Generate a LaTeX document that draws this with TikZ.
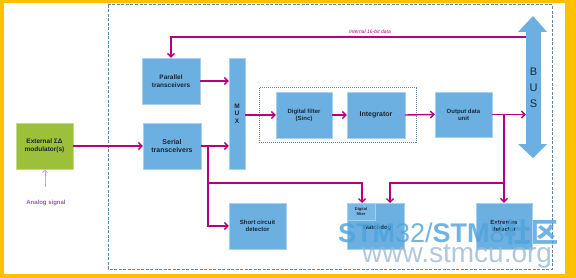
\documentclass[tikz,border=0pt]{standalone}
\usepackage{fontspec}
\setmainfont{Liberation Sans}
\newfontfamily\cjk{Noto Sans CJK SC}
\usetikzlibrary{arrows.meta}
\definecolor{frameY}{HTML}{FFC000}
\definecolor{boxblue}{HTML}{6CB0E2}
\definecolor{innerblue}{HTML}{78B8E6}
\definecolor{grn}{HTML}{9DC03B}
\definecolor{mag}{HTML}{B4007D}
\definecolor{txt}{HTML}{1A2636}
\definecolor{dashc}{HTML}{5E88AA}
\definecolor{anac}{HTML}{9060B8}
\definecolor{anal}{HTML}{C9A6DE}
\definecolor{wmblue}{HTML}{4DA3DB}
\definecolor{wmgrey}{HTML}{9DBAD4}
\tikzset{
  blk/.style={fill=boxblue, draw=boxblue!60!white, line width=0.4pt, text=txt, font=\bfseries\fontsize{6.5}{7.5}\selectfont,
    align=center, inner sep=0pt, minimum width=57pt, minimum height=46pt},
  link/.style={draw=mag, line width=1.4pt, -{Straight Barb[length=3.5pt,width=7pt]}},
}
\begin{document}
\begin{tikzpicture}[x=1pt,y=-1pt]
\useasboundingbox (0,0) rectangle (576,278);
% frame
\fill[frameY] (0,0) rectangle (576,278);
\fill[white] (4,3) rectangle (565,274);
% outer dashed frame
\draw[dashc, line width=1pt, dash pattern=on 3pt off 1.5pt] (108,5) rectangle (552,269);
% dotted group
\draw[dashc, line width=1pt, dash pattern=on 1pt off 1pt] (259,88) rectangle (416,142);

% bus
\fill[boxblue] (533,16) -- (547,32) -- (541,32) -- (541,144) -- (547,144) -- (533,158)
  -- (518,144) -- (526,144) -- (526,32) -- (518,32) -- cycle;
\node[fill=boxblue, inner sep=0pt, minimum width=15pt, minimum height=112pt,
  font=\fontsize{11}{16}\selectfont, text=txt, align=center] (bus) at (533.5,88) {B\\U\\S};

% blocks
\node[blk, minimum width=58pt] (par) at (171,81) {Parallel\\transceivers};
\node[blk, minimum width=58pt, font=\bfseries\fontsize{7}{8}\selectfont] (ser) at (172,146) {Serial\\transceivers};
\node[blk, minimum width=16pt, minimum height=111pt] (mux) at (237,113.5) {M\\U\\X};
\node[blk, minimum width=56pt, font=\bfseries\fontsize{6}{7}\selectfont] (df) at (304,115) {Digital filter\\(Sinc)};
\node[blk, minimum width=58pt, font=\bfseries\fontsize{7}{8}\selectfont] (int) at (376,115) {Integrator};
\node[blk, minimum height=45pt, font=\bfseries\fontsize{6}{7}\selectfont] (out) at (463.5,114.5) {Output data\\unit};
\node[blk, font=\bfseries\fontsize{6}{7}\selectfont] (sc) at (257.5,226) {Short circuit\\detector};
\node[blk] (wd) at (375.5,226) {};
\node[fill=innerblue, draw=boxblue!60!white, line width=0.4pt, text=txt, font=\bfseries\fontsize{4}{4.5}\selectfont,
  align=center, inner sep=0pt, minimum width=28pt, minimum height=17pt] (wdf) at (361,211.5) {Digital\\filter};
\node[text=txt, font=\bfseries\fontsize{6}{7}\selectfont, inner sep=0pt] (wdl2) at (377,228) {Watchdog};
\node[blk, minimum width=56pt, font=\bfseries\fontsize{6}{7}\selectfont] (ex) at (504,226) {Extremes\\detector};
\node[blk, fill=grn, draw=grn!60!white, font=\bfseries\fontsize{6.5}{7.5}\selectfont] (ext) at (44.5,146) {External ΣΔ\\modulator(s)};
\node[text=anac, font=\bfseries\fontsize{6}{7}\selectfont, inner sep=1pt] (an) at (46,203) {Analog signal};

% coordinates
\coordinate (d16) at (0,37);
\coordinate (hy) at (0,183);
\coordinate (sb) at (208,146);
\coordinate (wdl) at (362,203);
\coordinate (wdr) at (390,203);
\coordinate (ant) at (45,187);

% connectors
\draw[link] (ext.east) -- (ser.west);
\draw[draw=anal, line width=0.8pt, -{Straight Barb[length=3pt,width=5pt]}] (ant) -- (ant |- ext.south);
\draw[link] (par.east) -- (par.east -| mux.west);
\draw[link] (ser.east) -- (ser.east -| mux.west);
\draw[link] (mux.east |- df.west) -- (df.west);
\draw[link] (df.east) -- (int.west);
\draw[link] (int.east) -- (out.west);
\draw[link] (out.east) -- (bus.west |- out.east);
\draw[link] (bus.west |- d16) -| (par.north);
\node[text=mag!80!purple, font=\itshape\fontsize{5}{6}\selectfont] (lbl) at (370,31.5) {Internal 16-bit data};
\draw[link] (sb) |- (sc.west);
\draw[link] (sb |- hy) -| (wdl);
\draw[link] (ex.north |- out.east) -- (ex.north);
\draw[link] (ex.north |- hy) -| (wdr);

% watermark
\node[anchor=base west, inner sep=0pt, text=wmblue, opacity=0.8, font=\fontsize{27}{30}\selectfont] (wm1) at (338,242)
  {\textbf{STM}32/\textbf{STM}8{\cjk\bfseries 社区}};
\node[anchor=base west, inner sep=0pt, text=wmgrey, opacity=0.8, font=\fontsize{28}{30}\selectfont] (wm2) at (362,262)
  {www.stmcu.org};
\end{tikzpicture}
\end{document}
